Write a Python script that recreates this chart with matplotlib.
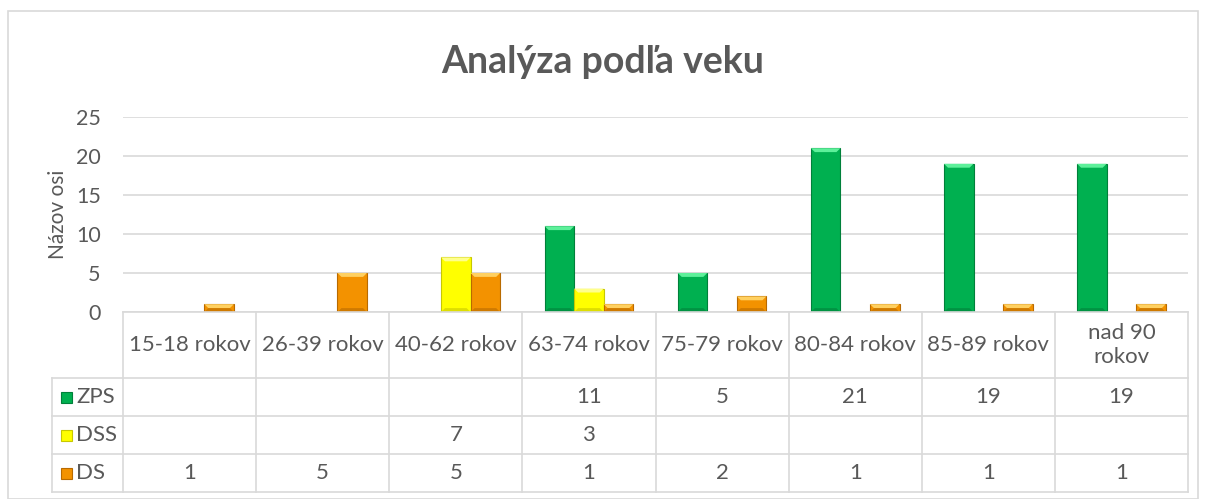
import numpy as np
import matplotlib.pyplot as plt
from matplotlib.patches import Polygon, Rectangle

# data
categories = ['15-18 rokov', '26-39 rokov', '40-62 rokov', '63-74 rokov',
              '75-79 rokov', '80-84 rokov', '85-89 rokov', 'nad 90\nrokov']
series_names = ['ZPS', 'DSS', 'DS']
zps = [None, None, None, 11, 5, 21, 19, 19]
dss = [None, None, 7, 3, None, None, None, None]
ds = [1, 5, 5, 1, 2, 1, 1, 1]
yticks = [0, 5, 10, 15, 20, 25]

colors = ['#00B050', '#FFFF00', '#F39200']
light = ['#5DF09A', '#FFFF8C', '#FFD060']
dark = ['#00803A', '#C8C800', '#B86A00']

plt.rcParams['font.family'] = ['Lato', 'DejaVu Sans']
txt = '#595959'
grid = '#D9D9D9'
fs = 16

W, H = 1206, 499
fig = plt.figure(figsize=(W / 100, H / 100), dpi=100)

# outer chart border
fig.patches.append(Rectangle((8 / W, 0), 1190 / W, 1 - 11 / H, transform=fig.transFigure,
                             fill=False, edgecolor=grid, lw=1.2))

fig.text(603 / W, 1 - 62 / H, 'Analýza podľa veku', ha='center', va='center',
         fontsize=27, fontweight='bold', color=txt)

ax = fig.add_axes([123 / W, 1 - 312 / H, 1065 / W, 195 / H])
x = np.arange(len(categories))
bw = 0.222
series = [zps, dss, ds]
for i, vals in enumerate(series):
    v = [np.nan if s is None else s for s in vals]
    bars = ax.bar(x + (i - 1) * bw, v, width=bw, color=colors[i], edgecolor=dark[i],
                  linewidth=0.8, zorder=3)
    for b in bars:
        h = b.get_height()
        if np.isnan(h):
            continue
        x0, w = b.get_x(), b.get_width()
        bx, by = 0.03, 0.5
        ax.add_patch(Polygon([(x0, h), (x0 + w, h), (x0 + w - bx, h - by), (x0 + bx, h - by)],
                             closed=True, facecolor=light[i], edgecolor='none', zorder=4))
        ax.add_patch(Polygon([(x0, 0), (x0 + w, 0), (x0 + w - bx, by), (x0 + bx, by)],
                             closed=True, facecolor=dark[i], edgecolor='none', zorder=4, alpha=0.6))
ax.set_xlim(-0.5, len(categories) - 0.5)
ax.set_ylim(0, 25)
ax.set_yticks(yticks)
ax.set_xticks([])
ax.grid(axis='y', color=grid, lw=1.2, zorder=0)
for s in ['top', 'right', 'left', 'bottom']:
    ax.spines[s].set_visible(False)
ax.tick_params(axis='y', length=0, labelsize=15.5, colors=txt, pad=16)
ax.set_ylabel('Názov osi', fontsize=15, color=txt, labelpad=6)

# data table below the plot
tab = fig.add_axes([123 / W, 1 - 492 / H, 1065 / W, 180 / H])
tab.set_xlim(-0.5, len(categories) - 0.5)
tab.set_ylim(180, 0)
tab.axis('off')
cw = 1065 / len(categories)
left = -0.5 - 71 / cw
rows = [66, 104, 142, 180]
for xb in np.arange(len(categories) + 1) - 0.5:
    tab.plot([xb, xb], [0, 180], color=grid, lw=1.2, clip_on=False)
tab.plot([left, left], [66, 180], color=grid, lw=1.2, clip_on=False)
tab.plot([-0.5, len(categories) - 0.5], [0, 0], color=grid, lw=1.2, clip_on=False)
for r in rows:
    tab.plot([left, len(categories) - 0.5], [r, r], color=grid, lw=1.2, clip_on=False)
for j, c in enumerate(categories):
    tab.text(j, 33, c, ha='center', va='center', fontsize=fs, color=txt, linespacing=1.25)
for i, (name, vals) in enumerate(zip(series_names, series)):
    yc = (rows[i] + rows[i + 1]) / 2
    tab.add_patch(Rectangle((left + 9 / cw, yc - 5.5), 11 / cw, 11, facecolor=colors[i],
                            edgecolor=dark[i], lw=0.8, clip_on=False))
    tab.text(left + 24 / cw, yc, name, ha='left', va='center', fontsize=fs, color=txt)
    for j, v in enumerate(vals):
        if v is not None:
            tab.text(j, yc, str(v), ha='center', va='center', fontsize=fs, color=txt)

fig.savefig('out.png', dpi=100)
